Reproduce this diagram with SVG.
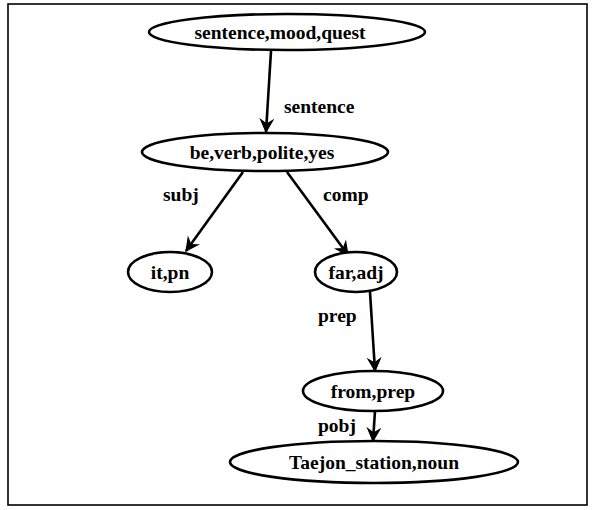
<svg xmlns="http://www.w3.org/2000/svg" width="596" height="510" viewBox="0 0 596 510">
<style>
.n{fill:#fff;stroke:#000;stroke-width:2.6}
.t{font-family:"Liberation Serif","Times New Roman",serif;font-weight:bold;font-size:19.5px;fill:#000}
.c{text-anchor:middle}
.e{stroke:#000;stroke-width:2.6;fill:none;marker-end:url(#a)}
</style>
<defs>
<marker id="a" markerUnits="userSpaceOnUse" markerWidth="16" markerHeight="16" viewBox="-14 -8 16 16" refX="0" refY="0" orient="auto">
<path d="M0,0 L-12,-6 L-8,0 L-12,6 Z" fill="#000" stroke="#000" stroke-width="1.2" stroke-linejoin="miter"/>
</marker>
</defs>
<rect x="8" y="4" width="579" height="501" fill="none" stroke="#000" stroke-width="1.6"/>
<g id="edges">
<line class="e" x1="271" y1="51" x2="266" y2="132"/>
<line class="e" x1="243" y1="172" x2="186" y2="251"/>
<line class="e" x1="287" y1="172" x2="348" y2="255"/>
<line class="e" x1="370" y1="292" x2="375" y2="371"/>
<line class="e" x1="375" y1="411" x2="373" y2="441"/>
<text class="t" x="284" y="113">sentence</text>
<text class="t" x="163" y="201">subj</text>
<text class="t" x="323" y="201">comp</text>
<text class="t" x="318" y="322">prep</text>
<text class="t" x="318" y="432">pobj</text>
</g>
<g id="n1"><ellipse class="n" cx="287" cy="32" rx="138" ry="18"/><text class="t c" x="280" y="39">sentence,mood,quest</text></g>
<g id="n2"><ellipse class="n" cx="265" cy="152" rx="123" ry="19"/><text class="t c" x="262" y="159">be,verb,polite,yes</text></g>
<g id="n3"><ellipse class="n" cx="170" cy="272" rx="42" ry="20"/><text class="t c" x="170" y="279">it,pn</text></g>
<g id="n4"><ellipse class="n" cx="356" cy="272" rx="41" ry="20"/><text class="t c" x="356" y="279">far,adj</text></g>
<g id="n5"><ellipse class="n" cx="373" cy="391" rx="70" ry="20"/><text class="t c" x="373" y="398">from,prep</text></g>
<g id="n6"><ellipse class="n" cx="374" cy="462" rx="144" ry="21"/><text class="t c" x="374" y="469">Taejon_station,noun</text></g>
</svg>
